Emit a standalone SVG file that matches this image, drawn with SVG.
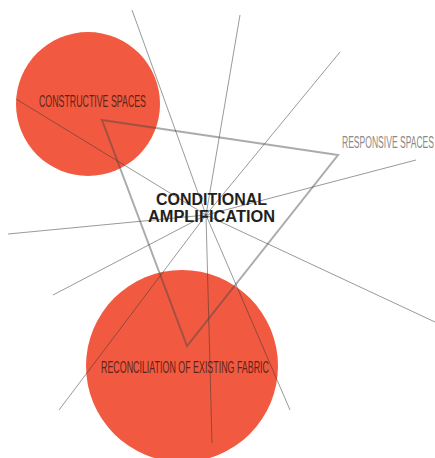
<svg xmlns="http://www.w3.org/2000/svg" width="435" height="458" viewBox="0 0 435 458">
<style>
.blob{fill:#F15A40}
.lbl{font-family:"Liberation Sans",Arial,sans-serif;font-size:16px;fill:#5e2318}
.gl{font-family:"Liberation Sans",Arial,sans-serif;font-size:16px;fill:#8a8a8a}
.ttl{font-family:"Liberation Sans",Arial,sans-serif;font-size:16px;font-weight:bold;fill:#231f20}
.ray{stroke:#333;stroke-opacity:0.5;stroke-width:1;fill:none}
.tri{stroke:#444;stroke-opacity:0.45;stroke-width:2;fill:none;stroke-linejoin:miter}
</style>
<rect width="435" height="458" fill="#fff"/>
<g id="constructive-spaces">
<circle class="blob" cx="88" cy="104" r="72"/>
<text class="lbl" x="39" y="106.5" textLength="107" lengthAdjust="spacingAndGlyphs">CONSTRUCTIVE SPACES</text>
</g>
<g id="reconciliation">
<circle class="blob" cx="182" cy="366" r="96"/>
<text class="lbl" x="101" y="372.5" textLength="168" lengthAdjust="spacingAndGlyphs">RECONCILIATION OF EXISTING FABRIC</text>
</g>
<g id="responsive-spaces">
<text class="gl" x="342" y="147.5" textLength="92" lengthAdjust="spacingAndGlyphs">RESPONSIVE SPACES</text>
</g>
<g id="connectors">
<line class="ray" x1="206" y1="215" x2="132" y2="10"/>
<line class="ray" x1="206" y1="215" x2="240" y2="15"/>
<line class="ray" x1="206" y1="215" x2="340" y2="52"/>
<line class="ray" x1="206" y1="215" x2="416" y2="160"/>
<line class="ray" x1="206" y1="215" x2="435" y2="322"/>
<line class="ray" x1="206" y1="215" x2="290" y2="410"/>
<line class="ray" x1="206" y1="215" x2="212" y2="443"/>
<line class="ray" x1="206" y1="215" x2="59" y2="410"/>
<line class="ray" x1="206" y1="215" x2="53" y2="295"/>
<line class="ray" x1="206" y1="215" x2="8" y2="234"/>
<line class="ray" x1="206" y1="215" x2="16" y2="99"/>
<polygon class="tri" points="102,120 338,155 187,346"/>
</g>
<g id="conditional-amplification">
<text class="ttl" x="156" y="205" textLength="111" lengthAdjust="spacingAndGlyphs">CONDITIONAL</text>
<text class="ttl" x="148" y="222" textLength="127" lengthAdjust="spacingAndGlyphs">AMPLIFICATION</text>
</g>
</svg>
